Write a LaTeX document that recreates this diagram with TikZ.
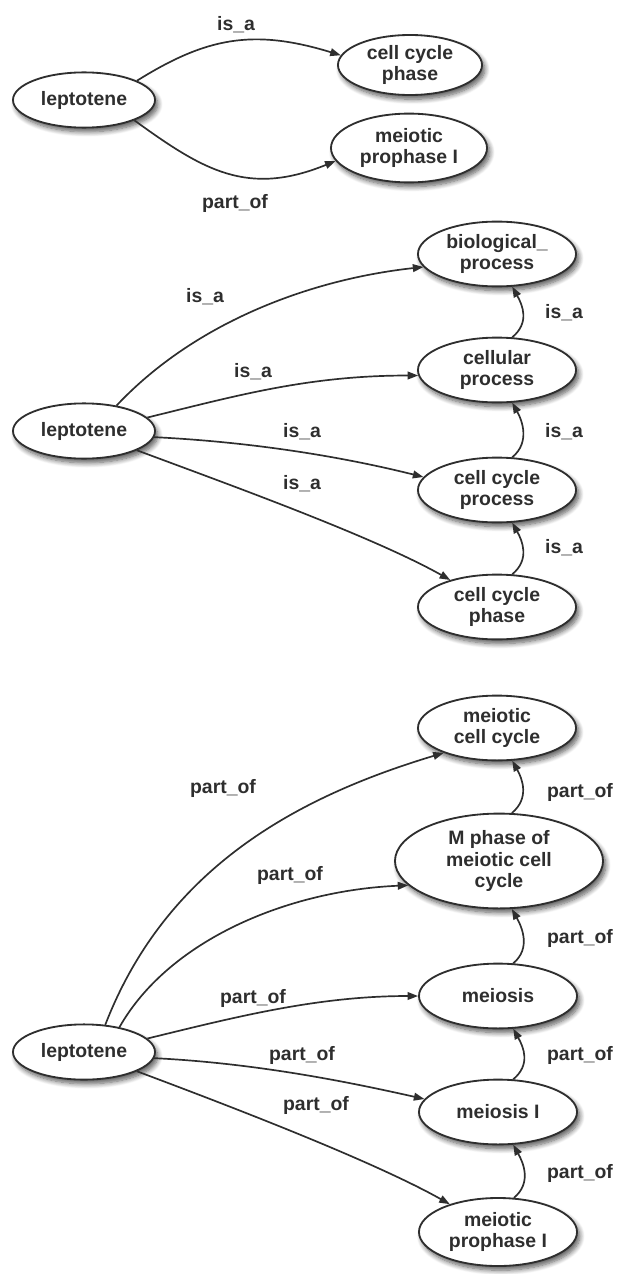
\documentclass[tikz,border=0pt]{standalone}
\usepackage{fontspec}
\setsansfont{Liberation Sans}
\usetikzlibrary{arrows.meta,shapes.geometric,shadows.blur}
\definecolor{ink}{HTML}{2E2E2E}

\begin{document}
\begin{tikzpicture}[
    x=0.025cm, y=0.025cm,
    >={Triangle[length=7.5pt,width=5.5pt]},
    font=\sffamily\bfseries\fontsize{13.8}{15.4}\selectfont,
    term/.style={
        ellipse, draw=ink,
        line width=1.3pt,
        fill=white,
        inner sep=0pt,
        minimum width=3.95cm,
        minimum height=1.62cm,
        align=center,
        text=ink,
        blur shadow={shadow xshift=2pt, shadow yshift=-3pt, shadow blur radius=3.5pt, shadow blur steps=8, shadow opacity=65}
    },
    lep/.style={
        term,
        minimum width=3.55cm,
        minimum height=1.38cm
    },
    link/.style={
        ->, draw=ink,
        line width=1.2pt
    },
    rel/.style={
        text=ink,
        inner sep=0pt
    }
]

\useasboundingbox (0,0) rectangle (619,-1274);

% is_a and part_of of leptotene
\node[lep] (lepA) at (84,-100) {leptotene};
\node[term, minimum width=3.6cm, minimum height=1.5cm] (ccpA) at (410,-65) {cell cycle\\phase};
\node[term, minimum width=3.9cm, minimum height=1.72cm] (mpA) at (409,-148) {meiotic\\prophase I};

\draw[link] (lepA.20) .. controls +(69,43) and +(-88,27) .. (ccpA.172);
\draw[link] (lepA.-22) .. controls +(69,-50) and +(-88,-36) .. (mpA.190);

\node[rel] (isaA) at (236,-25) {is\_a};
\node[rel] (poA) at (235,-203) {part\_of};


% is_a closure
\node[lep] (lepB) at (84,-431) {leptotene};
\node[term] (bpB) at (497,-254) {biological\_\\process};
\node[term] (cpB) at (497,-370) {cellular\\process};
\node[term] (ccprB) at (497,-490) {cell cycle\\process};
\node[term] (ccphB) at (497,-607) {cell cycle\\phase};

\draw[link] (lepB.38) .. controls +(80,85) and +(-110,-12) .. (bpB.190);
\draw[link] (lepB.12) .. controls +(90,22) and +(-110,0) .. (cpB.184);
\draw[link] (lepB.-5) .. controls +(100,-5) and +(-80,20) .. (ccprB.170);
\draw[link] (lepB.-20) .. controls +(80,-30) and +(-80,45) .. (ccphB.150);

\draw[link] (cpB.65) .. controls +(18,15) and +(10,-18) .. (bpB.-65);
\draw[link] (ccprB.65) .. controls +(18,15) and +(10,-18) .. (cpB.-65);
\draw[link] (ccphB.65) .. controls +(18,15) and +(10,-18) .. (ccprB.-65);

\node[rel] (isaB1) at (205,-297) {is\_a};
\node[rel] (isaB2) at (253,-372) {is\_a};
\node[rel] (isaB3) at (302,-432) {is\_a};
\node[rel] (isaB4) at (302,-484) {is\_a};
\node[rel] (isaB5) at (564,-313) {is\_a};
\node[rel] (isaB6) at (564,-432) {is\_a};
\node[rel] (isaB7) at (564,-548) {is\_a};


% part_of closure
\node[lep] (lepC) at (84,-1052) {leptotene};
\node[term] (mccC) at (497,-728) {meiotic\\cell cycle};
\node[term, minimum width=5.2cm, minimum height=2.37cm] (mphC) at (499,-861) {M phase of\\meiotic cell\\cycle};
\node[term] (meiC) at (498,-996) {meiosis};
\node[term] (meiIC) at (498,-1112) {meiosis I};
\node[term, minimum height=1.7cm] (mpC) at (498,-1232) {meiotic\\prophase I};

\draw[link] (lepC.52) .. controls +(60,155) and +(-150,-45) .. (mccC.205);
\draw[link] (lepC.35) .. controls +(50,88) and +(-119,-5) .. (mphC.195);
\draw[link] (lepC.12) .. controls +(90,22) and +(-100,0) .. (meiC.180);
\draw[link] (lepC.-5) .. controls +(100,-5) and +(-80,18) .. (meiIC.170);
\draw[link] (lepC.-20) .. controls +(80,-30) and +(-80,45) .. (mpC.150);

\draw[link] (mphC.75) .. controls +(18,15) and +(10,-18) .. (mccC.-65);
\draw[link] (meiC.65) .. controls +(18,15) and +(10,-18) .. (mphC.-75);
\draw[link] (meiIC.65) .. controls +(18,15) and +(10,-18) .. (meiC.-65);
\draw[link] (mpC.65) .. controls +(18,15) and +(10,-18) .. (meiIC.-65);

\node[rel] (poC1) at (223,-788) {part\_of};
\node[rel] (poC2) at (290,-875) {part\_of};
\node[rel] (poC3) at (253,-998) {part\_of};
\node[rel] (poC4) at (302,-1055) {part\_of};
\node[rel] (poC5) at (316,-1105) {part\_of};
\node[rel] (poC6) at (580,-792) {part\_of};
\node[rel] (poC7) at (580,-938) {part\_of};
\node[rel] (poC8) at (580,-1055) {part\_of};
\node[rel] (poC9) at (580,-1173) {part\_of};

\end{tikzpicture}
\end{document}
